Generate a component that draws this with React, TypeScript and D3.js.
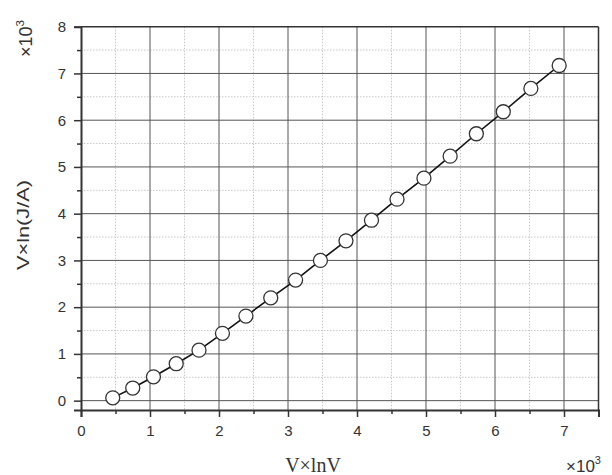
import React, { useEffect, useRef } from "react";
import * as d3 from "d3";

const xValues = [0.46, 0.75, 1.05, 1.38, 1.71, 2.05, 2.39, 2.75, 3.11, 3.47, 3.84, 4.21, 4.58, 4.97, 5.35, 5.73, 6.12, 6.52, 6.93];
const yValues = [0.06, 0.27, 0.51, 0.79, 1.08, 1.44, 1.81, 2.2, 2.58, 3.0, 3.42, 3.86, 4.31, 4.76, 5.23, 5.71, 6.18, 6.68, 7.17];
const xMajorTicks = [0, 1, 2, 3, 4, 5, 6, 7];
const xMinorTicks = [0.5, 1.5, 2.5, 3.5, 4.5, 5.5, 6.5, 7.5];
const yMajorTicks = [0, 1, 2, 3, 4, 5, 6, 7, 8];
const yMinorTicks = [0.5, 1.5, 2.5, 3.5, 4.5, 5.5, 6.5, 7.5];
const xLabel = "V×lnV";
const yLabel = "V×ln(J/A)";

const W = 612, H = 475;
const L = 81, R = 598.5, T = 26.7, B = 410;

export default function App() {
  const ref = useRef<SVGSVGElement>(null);

  useEffect(() => {
    const svg = d3.select(ref.current);
    svg.selectAll("*").remove();
    const x = d3.scaleLinear().domain([0, 7.5]).range([L, R]);
    const y = d3.scaleLinear().domain([-0.2, 8]).range([B, T]);
    const font = "'Liberation Sans', Arial, sans-serif";

    svg.append("rect").attr("width", W).attr("height", H).attr("fill", "#fff");

    // minor grid (dotted)
    const g = svg.append("g");
    g.selectAll(".vmin").data(xMinorTicks.filter(v => v < 7.5)).join("line")
      .attr("x1", d => x(d)).attr("x2", d => x(d)).attr("y1", T).attr("y2", B)
      .attr("stroke", "#c8c8c8").attr("stroke-width", 1).attr("stroke-dasharray", "1.5,1.5");
    g.selectAll(".hmin").data(yMinorTicks).join("line")
      .attr("x1", L).attr("x2", R).attr("y1", d => y(d)).attr("y2", d => y(d))
      .attr("stroke", "#c8c8c8").attr("stroke-width", 1).attr("stroke-dasharray", "1.5,1.5");
    // major grid
    g.selectAll(".vmaj").data(xMajorTicks.filter(v => v > 0)).join("line")
      .attr("x1", d => x(d)).attr("x2", d => x(d)).attr("y1", T).attr("y2", B)
      .attr("stroke", "#555").attr("stroke-width", 1);
    g.selectAll(".hmaj").data(yMajorTicks.filter(v => v < 8)).join("line")
      .attr("x1", L).attr("x2", R).attr("y1", d => y(d)).attr("y2", d => y(d))
      .attr("stroke", "#555").attr("stroke-width", 1);

    // frame top/right
    svg.append("line").attr("x1", L).attr("x2", R).attr("y1", T).attr("y2", T)
      .attr("stroke", "#333").attr("stroke-width", 1.5);
    svg.append("line").attr("x1", R).attr("x2", R).attr("y1", T).attr("y2", B)
      .attr("stroke", "#333").attr("stroke-width", 1.5);

    // axes
    const xAxis = svg.append("g").attr("transform", `translate(0,${B})`)
      .call(d3.axisBottom(x).tickValues(xMajorTicks).tickSize(7).tickPadding(8).tickFormat(d3.format("d")));
    svg.append("g").attr("transform", `translate(0,${B})`)
      .call(d3.axisBottom(x).tickValues(xMinorTicks).tickSize(4).tickFormat(() => ""))
      .call(s => s.select(".domain").remove());
    const yAxis = svg.append("g").attr("transform", `translate(${L},0)`)
      .call(d3.axisLeft(y).tickValues(yMajorTicks).tickSize(7).tickPadding(8).tickFormat(d3.format("d")));
    svg.append("g").attr("transform", `translate(${L},0)`)
      .call(d3.axisLeft(y).tickValues(yMinorTicks).tickSize(4).tickFormat(() => ""))
      .call(s => s.select(".domain").remove());

    svg.selectAll(".domain").attr("stroke", "#333").attr("stroke-width", 2);
    svg.selectAll(".tick line").attr("stroke", "#333").attr("stroke-width", 1.5);
    [xAxis, yAxis].forEach(a => a.selectAll("text")
      .attr("font-family", font).attr("font-size", 15).attr("fill", "#333"));
    xAxis.selectAll("text").attr("dy", "0.72em");

    // line + points
    const pts = xValues.map((v, i) => [v, yValues[i]] as [number, number]);
    const line = d3.line<[number, number]>().x(d => x(d[0])).y(d => y(d[1]));
    svg.append("path").attr("d", line(pts)).attr("fill", "none")
      .attr("stroke", "#111").attr("stroke-width", 1.6);
    svg.selectAll(".pt").data(pts).join("circle")
      .attr("cx", d => x(d[0])).attr("cy", d => y(d[1])).attr("r", 7)
      .attr("fill", "#fff").attr("stroke", "#333").attr("stroke-width", 1.3);

    // labels
    svg.append("text").attr("x", 313).attr("y", 472).attr("text-anchor", "middle")
      .attr("font-family", "'Liberation Serif', 'Times New Roman', serif").attr("font-size", 20)
      .attr("fill", "#333").text(xLabel);
    const xs = svg.append("text").attr("x", 566).attr("y", 472)
      .attr("font-family", font).attr("font-size", 17).attr("fill", "#333");
    xs.append("tspan").text("×10");
    xs.append("tspan").attr("font-size", 11).attr("dy", -8).text("3");

    svg.append("text").attr("transform", "translate(29,225) rotate(-90)").attr("text-anchor", "middle")
      .attr("font-family", font).attr("font-size", 16).attr("fill", "#333")
      .attr("textLength", 90).attr("lengthAdjust", "spacingAndGlyphs").text(yLabel);
    const ys = svg.append("text").attr("transform", "translate(32,57) rotate(-90)")
      .attr("font-family", font).attr("font-size", 18).attr("fill", "#333");
    ys.append("tspan").text("×10");
    ys.append("tspan").attr("font-size", 11.5).attr("dy", -8).text("3");
  }, []);

  return (
    <svg ref={ref} width={W} height={H}
      style={{ position: "absolute", left: 0, top: 0, display: "block" }} />
  );
}
